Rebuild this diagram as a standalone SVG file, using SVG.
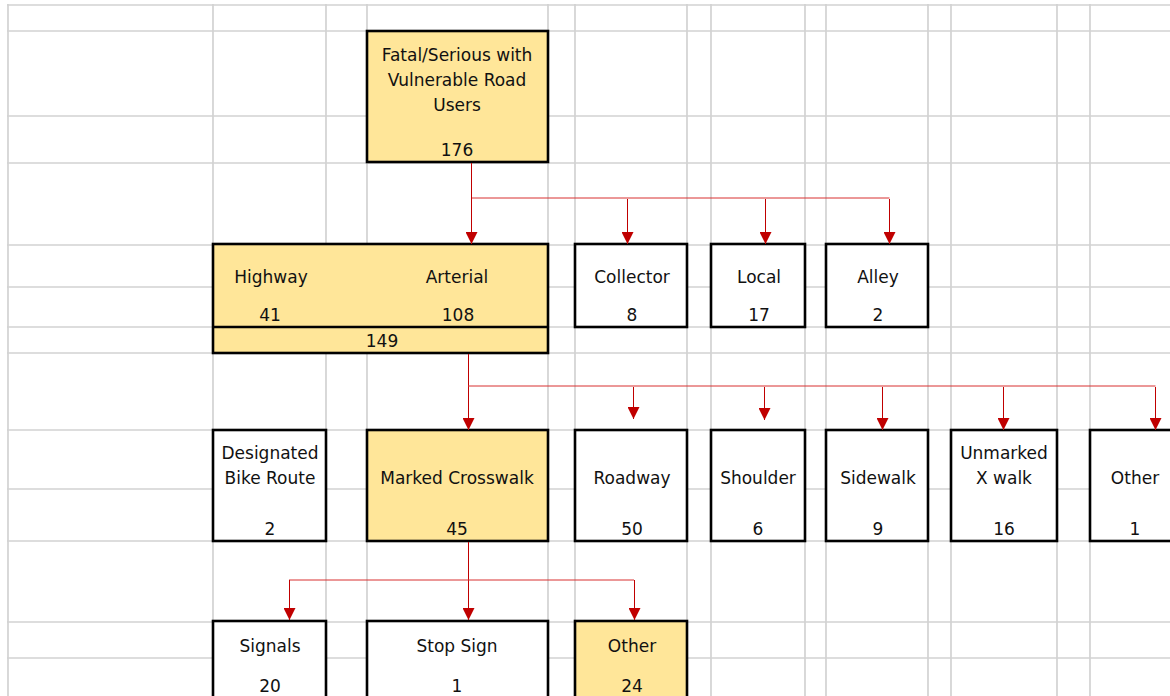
<svg xmlns="http://www.w3.org/2000/svg" width="1170" height="696" viewBox="0 0 1170 696">
<style>
.grid line{stroke:#d2d2d2;stroke-width:1.7}
.box{stroke:#000;stroke-width:2.6}
.y{fill:#FFE699}
.w{fill:#fff}
text{font-family:"DejaVu Sans","Liberation Sans",sans-serif;font-size:17px;fill:#111;text-anchor:middle}
.con path{fill:none;stroke:#C00000;stroke-width:1}
.con path.h{stroke:#d83030}
</style>
<defs>
<marker id="arr" markerUnits="userSpaceOnUse" markerWidth="12" markerHeight="12" refX="12" refY="6" orient="auto">
<path d="M0,0 L12,6 L0,12 z" fill="#C00000"/>
</marker>
</defs>
<rect width="1170" height="696" fill="#fff"/>
<g class="grid">
<line x1="8" y1="4" x2="8" y2="696"/>
<line x1="213" y1="4" x2="213" y2="696"/>
<line x1="326" y1="4" x2="326" y2="696"/>
<line x1="367" y1="4" x2="367" y2="696"/>
<line x1="548" y1="4" x2="548" y2="696"/>
<line x1="575" y1="4" x2="575" y2="696"/>
<line x1="687" y1="4" x2="687" y2="696"/>
<line x1="711" y1="4" x2="711" y2="696"/>
<line x1="805" y1="4" x2="805" y2="696"/>
<line x1="826" y1="4" x2="826" y2="696"/>
<line x1="928" y1="4" x2="928" y2="696"/>
<line x1="951" y1="4" x2="951" y2="696"/>
<line x1="1057" y1="4" x2="1057" y2="696"/>
<line x1="1090" y1="4" x2="1090" y2="696"/>
<line x1="7" y1="5" x2="1170" y2="5"/>
<line x1="7" y1="31" x2="1170" y2="31"/>
<line x1="7" y1="116" x2="1170" y2="116"/>
<line x1="7" y1="163" x2="1170" y2="163"/>
<line x1="7" y1="245" x2="1170" y2="245"/>
<line x1="7" y1="287" x2="1170" y2="287"/>
<line x1="7" y1="327" x2="1170" y2="327"/>
<line x1="7" y1="353" x2="1170" y2="353"/>
<line x1="7" y1="430" x2="1170" y2="430"/>
<line x1="7" y1="489" x2="1170" y2="489"/>
<line x1="7" y1="541" x2="1170" y2="541"/>
<line x1="7" y1="622" x2="1170" y2="622"/>
<line x1="7" y1="658" x2="1170" y2="658"/>
</g>
<g id="n-fatal">
<rect class="box y" x="367" y="31" width="181" height="131"/>
<text x="457" y="61">Fatal/Serious with</text>
<text x="457" y="86">Vulnerable Road</text>
<text x="457" y="111">Users</text>
<text x="457" y="156">176</text>
</g>
<g id="n-hwy-art">
<rect class="box y" x="213" y="244" width="335" height="109"/>
<line class="box" x1="213" y1="327" x2="548" y2="327"/>
<text x="271" y="283">Highway</text>
<text x="457" y="283">Arterial</text>
<text x="270" y="321">41</text>
<text x="458" y="321">108</text>
<text x="382" y="347">149</text>
</g>
<g id="n-collector">
<rect class="box w" x="575" y="244" width="112" height="83"/>
<text x="632" y="283">Collector</text>
<text x="632" y="321">8</text>
</g>
<g id="n-local">
<rect class="box w" x="711" y="244" width="94" height="83"/>
<text x="759" y="283">Local</text>
<text x="759" y="321">17</text>
</g>
<g id="n-alley">
<rect class="box w" x="826" y="244" width="102" height="83"/>
<text x="878" y="283">Alley</text>
<text x="878" y="321">2</text>
</g>
<g id="n-bike">
<rect class="box w" x="213" y="430" width="113" height="111"/>
<text x="270" y="459">Designated</text>
<text x="270" y="484">Bike Route</text>
<text x="270" y="535">2</text>
</g>
<g id="n-marked">
<rect class="box y" x="367" y="430" width="181" height="111"/>
<text x="457" y="484">Marked Crosswalk</text>
<text x="457" y="535">45</text>
</g>
<g id="n-roadway">
<rect class="box w" x="575" y="430" width="112" height="111"/>
<text x="632" y="484">Roadway</text>
<text x="632" y="535">50</text>
</g>
<g id="n-shoulder">
<rect class="box w" x="711" y="430" width="94" height="111"/>
<text x="758" y="484">Shoulder</text>
<text x="758" y="535">6</text>
</g>
<g id="n-sidewalk">
<rect class="box w" x="826" y="430" width="102" height="111"/>
<text x="878" y="484">Sidewalk</text>
<text x="878" y="535">9</text>
</g>
<g id="n-unmarked">
<rect class="box w" x="951" y="430" width="106" height="111"/>
<text x="1004" y="459">Unmarked</text>
<text x="1004" y="484">X walk</text>
<text x="1004" y="535">16</text>
</g>
<g id="n-other1">
<rect class="box w" x="1090" y="430" width="92" height="111"/>
<text x="1135" y="484">Other</text>
<text x="1135" y="535">1</text>
</g>
<g id="n-signals">
<rect class="box w" x="213" y="621" width="113" height="90"/>
<text x="270" y="652">Signals</text>
<text x="270" y="692">20</text>
</g>
<g id="n-stop">
<rect class="box w" x="367" y="621" width="181" height="90"/>
<text x="457" y="652">Stop Sign</text>
<text x="457" y="692">1</text>
</g>
<g id="n-other2">
<rect class="box y" x="575" y="621" width="112" height="90"/>
<text x="632" y="652">Other</text>
<text x="632" y="692">24</text>
</g>
<g class="con">
<path d="M471.5,163 V244" marker-end="url(#arr)"/>
<path class="h" d="M472,198 H889.5"/>
<path d="M627.5,199 V244" marker-end="url(#arr)"/>
<path d="M765.5,199 V244" marker-end="url(#arr)"/>
<path d="M889.5,199 V244" marker-end="url(#arr)"/>
<path d="M468.5,354 V430" marker-end="url(#arr)"/>
<path class="h" d="M468,386 H1155.5"/>
<path d="M633.5,387 V419" marker-end="url(#arr)"/>
<path d="M764.5,387 V420" marker-end="url(#arr)"/>
<path d="M882.5,387 V430" marker-end="url(#arr)"/>
<path d="M1003.5,387 V430" marker-end="url(#arr)"/>
<path d="M1155.5,387 V430" marker-end="url(#arr)"/>
<path d="M468.5,542 V620" marker-end="url(#arr)"/>
<path class="h" d="M289,580 H634"/>
<path d="M289.5,580 V620" marker-end="url(#arr)"/>
<path d="M634.5,580 V620" marker-end="url(#arr)"/>
</g>
</svg>
